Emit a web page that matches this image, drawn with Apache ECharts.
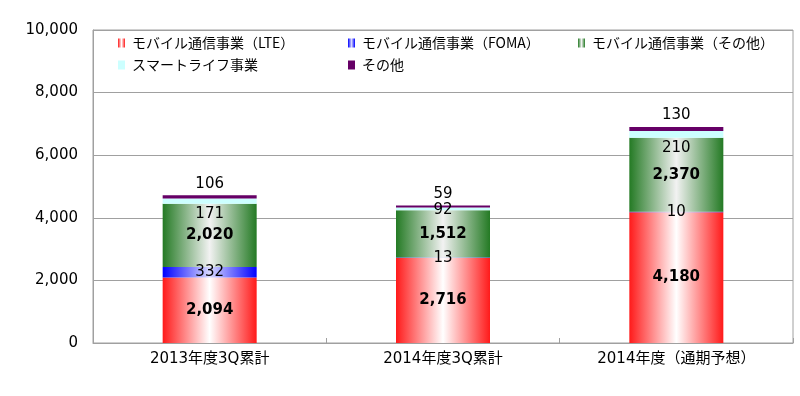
<!DOCTYPE html>
<html>
<head>
<meta charset="utf-8">
<script src="https://cdn.jsdelivr.net/npm/echarts@6/dist/echarts.min.js"></script>
<style>html,body{margin:0;padding:0;background:#fff}#c{width:800px;height:396px}</style>
</head>
<body>
<div id="c"></div>
<script>
var categories = ['2013年度3Q累計', '2014年度3Q累計', '2014年度（通期予想）'];
var seriesNames = ['モバイル通信事業（LTE）', 'モバイル通信事業（FOMA）', 'モバイル通信事業（その他）', 'スマートライフ事業', 'その他'];
var lte = [2094, 2716, 4180];
var foma = [332, 13, 10];
var mobileOther = [2020, 1512, 2370];
var smartLife = [171, 92, 210];
var other = [106, 59, 130];
var yTicks = [0, 2000, 4000, 6000, 8000, 10000];

var NUMF = '"DejaVu Sans", Verdana, sans-serif';
var JPF = '"Noto Sans CJK JP", "DejaVu Sans", sans-serif';

function fmt(v) { return String(v).replace(/\B(?=(\d{3})+(?!\d))/g, ','); }
function hgrad(edge, mid) {
  return { type: 'linear', x: 0, y: 0, x2: 1, y2: 0,
    colorStops: [{ offset: 0, color: edge }, { offset: 0.5, color: mid }, { offset: 1, color: edge }] };
}

var smartShift = [0, -11, 0];

var chart = echarts.init(document.getElementById('c'), null, { renderer: 'canvas' });

function lbl(extra) {
  var base = { show: true, color: '#000', fontFamily: NUMF, fontSize: 15,
    formatter: function (p) { return fmt(p.value); } };
  for (var k in extra) base[k] = extra[k];
  return base;
}

var legendPos = [[118, 36], [348, 36], [578, 36], [118, 58], [348, 58]];
var legends = seriesNames.map(function (n, i) {
  return { data: [n], left: legendPos[i][0], top: legendPos[i][1], padding: 0,
    icon: 'rect', itemWidth: 7, itemHeight: 9, itemGap: 0, selectedMode: false,
    textStyle: { fontSize: 14, fontFamily: JPF, color: '#000', padding: [0, 0, 0, 2] } };
});

chart.setOption({
  animation: false,
  backgroundColor: '#fff',
  grid: { left: 93, right: 7, top: 30, bottom: 53, show: true, borderColor: '#a0a0a0', borderWidth: 1, backgroundColor: 'transparent' },
  legend: legends,
  xAxis: {
    type: 'category', data: categories,
    axisLine: { lineStyle: { color: '#a0a0a0', width: 1 } },
    axisTick: { show: true, inside: true, length: 5, lineStyle: { color: '#a0a0a0' } },
    axisLabel: { color: '#000', fontSize: 15, fontFamily: NUMF.replace('"DejaVu Sans"', '"DejaVu Sans", "Noto Sans CJK JP"'), margin: 9 }
  },
  yAxis: {
    type: 'value', min: yTicks[0], max: yTicks[yTicks.length - 1], interval: yTicks[1] - yTicks[0],
    axisLine: { show: true, lineStyle: { color: '#a0a0a0' } },
    axisTick: { show: false },
    splitLine: { lineStyle: { color: '#a0a0a0', width: 1 } },
    axisLabel: { color: '#000', fontSize: 15, fontFamily: NUMF, margin: 15, formatter: function (v) { return fmt(v); } }
  },
  series: [
    { name: seriesNames[0], type: 'bar', stack: 't', barWidth: 94, data: lte,
      itemStyle: { color: hgrad('#ff1a1a', '#ffffff') },
      label: lbl({ position: 'inside', fontWeight: 'bold' }) },
    { name: seriesNames[1], type: 'bar', stack: 't', data: foma,
      itemStyle: { color: hgrad('#0000ff', '#d8d8ff') },
      label: lbl({ position: 'inside' }) },
    { name: seriesNames[2], type: 'bar', stack: 't', data: mobileOther,
      itemStyle: { color: hgrad('#247a24', '#f2f2f2') },
      label: lbl({ position: 'inside', fontWeight: 'bold' }) },
    { name: seriesNames[3], type: 'bar', stack: 't',
      data: smartLife.map(function (v, i) { return { value: v, label: { offset: [0, smartShift[i]] } }; }),
      itemStyle: { color: '#ccffff' },
      label: lbl({ position: 'bottom', distance: 3 }) },
    { name: seriesNames[4], type: 'bar', stack: 't', data: other,
      itemStyle: { color: '#660066' },
      label: lbl({ position: 'top', distance: 4 }) }
  ]
});
</script>
</body>
</html>
